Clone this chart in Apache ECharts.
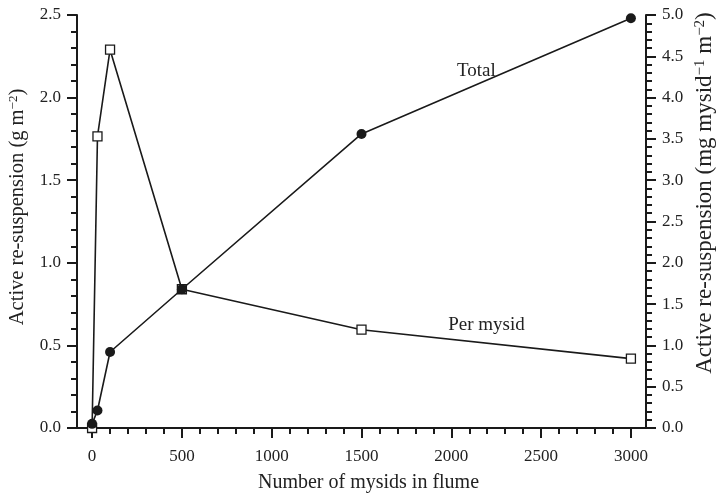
<!DOCTYPE html>
<html>
<head>
<meta charset="utf-8">
<script src="https://cdn.jsdelivr.net/npm/echarts@6/dist/echarts.min.js"></script>
<style>html,body{margin:0;padding:0;background:#fff;}#c{width:718px;height:498px;}</style>
</head>
<body>
<div id="c"></div>
<script>
// Data
const nMysids = [0, 30, 100, 500, 1500, 3000];
const totalResusp = [0.025, 0.106, 0.46, 0.84, 1.78, 2.48];      // g m^-2 (left axis)
const perMysidResusp = [0, 3.53, 4.58, 1.68, 1.19, 0.84];        // mg mysid^-1 m^-2 (right axis)
const xMajorTicks = [0, 500, 1000, 1500, 2000, 2500, 3000];
const xMinorTicks = [100,200,300,400,600,700,800,900,1100,1200,1300,1400,1600,1700,1800,1900,2100,2200,2300,2400,2600,2700,2800,2900];
const totalLabel = {text: 'Total', x: 2140, y: 2.163};
const perLabel = {text: 'Per mysid', x: 2196, y: 1.245};

const FONT = '"Liberation Serif", "Times New Roman", serif';
const INK = '#1a1a1a';
const TXT = '#222';

const chart = echarts.init(document.getElementById('c'), null, {renderer: 'canvas'});

const xMin = -84, xMax = 3084;

chart.setOption({
  animation: false,
  backgroundColor: '#fff',
  grid: {left: 77, right: 72, top: 15, bottom: 68, containLabel: false},
  xAxis: [{
    type: 'value', min: xMin, max: xMax, position: 'bottom',
    name: 'Number of mysids in flume', nameLocation: 'middle', nameGap: 45,
    nameTextStyle: {fontFamily: FONT, fontSize: 20, color: TXT, padding: [0, 0, 0, 14]},
    axisLine: {show: true, onZero: false, lineStyle: {color: INK, width: 2}},
    axisTick: {show: true, inside: false, length: 10, lineStyle: {color: INK, width: 2}, customValues: xMajorTicks},
    axisLabel: {show: true, margin: 20, fontFamily: FONT, fontSize: 17, color: TXT, customValues: xMajorTicks, formatter: v => String(v)},
    splitLine: {show: false}
  }, {
    type: 'value', min: xMin, max: xMax, position: 'bottom', gridIndex: 0,
    axisLine: {show: false},
    axisTick: {show: true, inside: false, length: 6, lineStyle: {color: INK, width: 2}, customValues: xMinorTicks},
    axisLabel: {show: false},
    splitLine: {show: false}
  }],
  yAxis: [{
    type: 'value', min: 0, max: 2.5, interval: 0.5, position: 'left',
    axisLine: {show: true, onZero: false, lineStyle: {color: INK, width: 2}},
    axisTick: {show: true, inside: false, length: 10, lineStyle: {color: INK, width: 2}},
    minorTick: {show: true, splitNumber: 5, length: 6, lineStyle: {color: INK, width: 2}},
    axisLabel: {margin: 16, fontFamily: FONT, fontSize: 17, color: TXT, formatter: v => v.toFixed(1)},
    splitLine: {show: false}, minorSplitLine: {show: false}
  }, {
    type: 'value', min: 0, max: 5, interval: 0.5, position: 'right',
    axisLine: {show: true, onZero: false, lineStyle: {color: INK, width: 2}},
    axisTick: {show: true, inside: false, length: 10, lineStyle: {color: INK, width: 2}},
    minorTick: {show: true, splitNumber: 5, length: 6, lineStyle: {color: INK, width: 2}},
    axisLabel: {margin: 16, fontFamily: FONT, fontSize: 17, color: TXT, formatter: v => v.toFixed(1)},
    splitLine: {show: false}, minorSplitLine: {show: false}
  }],
  graphic: [{
    type: 'text', x: 18, y: 207, rotation: Math.PI / 2,
    style: {
      text: '{a|Active re-suspension (g m}{s|−2}{a|)}',
      align: 'center', verticalAlign: 'middle', fill: TXT,
      rich: {
        a: {fontFamily: FONT, fontSize: 20.5, lineHeight: 22, fill: TXT},
        s: {fontFamily: FONT, fontSize: 13, lineHeight: 22, verticalAlign: 'top', fill: TXT}
      }
    }
  }, {
    type: 'text', x: 705, y: 193, rotation: Math.PI / 2,
    style: {
      text: '{a|Active re-suspension (mg mysid}{s|−1}{a| m}{s|−2}{a|)}',
      align: 'center', verticalAlign: 'middle', fill: TXT,
      rich: {
        a: {fontFamily: FONT, fontSize: 23, lineHeight: 25, fill: TXT},
        s: {fontFamily: FONT, fontSize: 15, lineHeight: 25, verticalAlign: 'top', fill: TXT}
      }
    }
  }],
  series: [{
    name: 'Per mysid', type: 'line', xAxisIndex: 0, yAxisIndex: 1,
    data: nMysids.map((n, i) => [n, perMysidResusp[i]]),
    symbol: 'rect', symbolSize: 9, showAllSymbol: true,
    lineStyle: {color: INK, width: 1.6},
    itemStyle: {color: '#fff', borderColor: INK, borderWidth: 1.3},
    z: 2,
    markPoint: {
      symbol: 'circle', symbolSize: 1, itemStyle: {color: 'rgba(0,0,0,0)'},
      label: {show: true, position: 'inside', formatter: perLabel.text, fontFamily: FONT, fontSize: 19, color: TXT},
      data: [{coord: [perLabel.x, perLabel.y]}]
    }
  }, {
    name: 'Total', type: 'line', xAxisIndex: 0, yAxisIndex: 0,
    data: nMysids.map((n, i) => [n, totalResusp[i]]),
    symbol: 'circle', symbolSize: 10, showAllSymbol: true,
    lineStyle: {color: INK, width: 1.6},
    itemStyle: {color: INK, borderColor: INK, borderWidth: 0},
    z: 3,
    markPoint: {
      symbol: 'circle', symbolSize: 1, itemStyle: {color: 'rgba(0,0,0,0)'},
      label: {show: true, position: 'inside', formatter: totalLabel.text, fontFamily: FONT, fontSize: 19, color: TXT},
      data: [{coord: [totalLabel.x, totalLabel.y]}]
    }
  }]
});
</script>
</body>
</html>
